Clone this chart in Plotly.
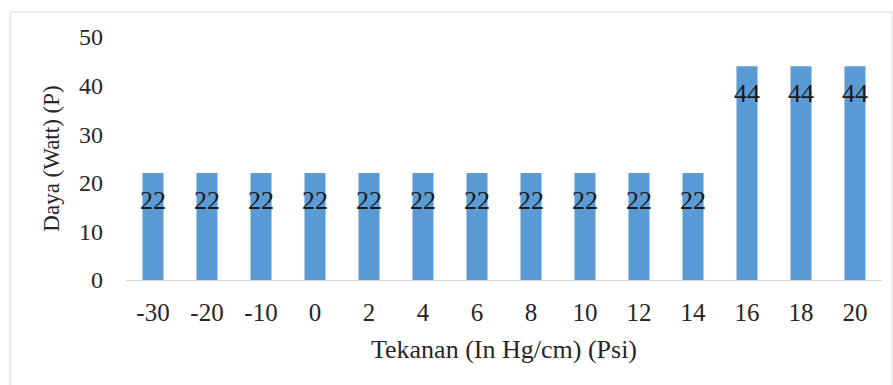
import plotly.graph_objects as go

# Pressure settings (category labels) and measured power
tekanan = ["-30", "-20", "-10", "0", "2", "4", "6", "8", "10", "12", "14", "16", "18", "20"]
daya = [22, 22, 22, 22, 22, 22, 22, 22, 22, 22, 22, 44, 44, 44]
y_ticks = [0, 10, 20, 30, 40, 50]

FONT = "Liberation Serif, Times New Roman, serif"
BAR_COLOR = "#5b9bd5"
TEXT_COLOR = "#262626"

fig = go.Figure(
    go.Bar(
        x=tekanan,
        y=daya,
        marker=dict(color=BAR_COLOR, line=dict(width=0)),
        width=0.39,
        hoverinfo="x+y",
    )
)

# Value labels sitting a little below each bar top (x given as category index)
for i, val in enumerate(daya):
    fig.add_annotation(
        x=i, y=val, text=str(val), showarrow=False,
        yanchor="middle", yshift=-27,
        font=dict(family=FONT, size=26, color="#1a1a1a"),
    )

# Outer chart frame
fig.add_shape(
    type="rect", xref="paper", yref="paper",
    x0=-0.1534, x1=1.0132, y0=-0.5, y1=1.1029,
    line=dict(color="#d9d9d9", width=1), fillcolor="rgba(0,0,0,0)", layer="below",
)

fig.update_layout(
    width=893, height=385,
    margin=dict(l=126, r=11, t=37, b=105),
    paper_bgcolor="white", plot_bgcolor="white",
    showlegend=False,
    font=dict(family=FONT, color=TEXT_COLOR),
    xaxis=dict(
        type="category",
        range=[-0.5, len(tekanan) - 0.5],
        showgrid=False,
        showline=True, linecolor="#d9d9d9", linewidth=1,
        ticks="", ticklabelstandoff=10,
        tickfont=dict(family=FONT, size=25, color=TEXT_COLOR),
        title=dict(text="Tekanan (In Hg/cm) (Psi)", standoff=14,
                   font=dict(family=FONT, size=26, color=TEXT_COLOR)),
        fixedrange=True,
    ),
    yaxis=dict(
        range=[0, 50],
        tickvals=y_ticks,
        showgrid=False, zeroline=False, showline=False,
        ticks="", ticklabelstandoff=22,
        tickfont=dict(family=FONT, size=24, color=TEXT_COLOR),
        title=dict(text="Daya (Watt) (P)", standoff=12,
                   font=dict(family=FONT, size=23, color=TEXT_COLOR)),
        fixedrange=True,
    ),
)

fig.write_html("out.html")
